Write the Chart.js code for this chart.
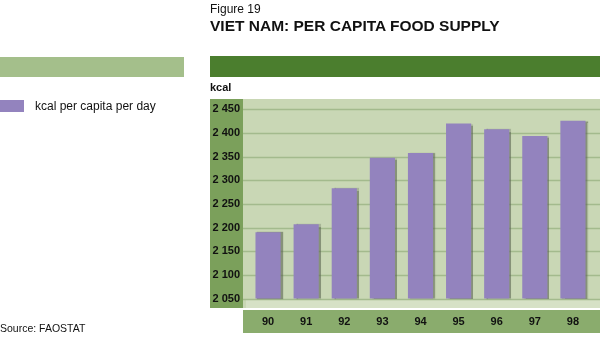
<!DOCTYPE html>
<html>
<head>
<meta charset="utf-8">
<script src="https://cdn.jsdelivr.net/npm/chart.js@4.4.1/dist/chart.umd.min.js"></script>
<style>
  html, body { margin: 0; padding: 0; background: #fff; }
  #wrap { position: relative; width: 600px; height: 338px; overflow: hidden; font-family: "Liberation Sans", Arial, sans-serif; }
  #c { position: absolute; left: 0; top: 0; }
  .t { position: absolute; white-space: nowrap; color: #111; }
  #fig { left: 210px; top: 2px; font-size: 12px; }
  #title { left: 210px; top: 17px; font-size: 15.5px; font-weight: bold; }
  #unit { left: 210px; top: 81px; font-size: 11px; font-weight: bold; }
  #sw { position: absolute; left: 0; top: 100px; width: 24px; height: 12px; background: #9383be; }
  #leg { left: 35px; top: 99px; font-size: 12px; }
  #src { left: 0; top: 322px; font-size: 10.5px; }
</style>
</head>
<body>
<div id="wrap">
  <canvas id="c" width="600" height="338"></canvas>
  <div class="t" id="fig">Figure 19</div>
  <div class="t" id="title">VIET NAM: PER CAPITA FOOD SUPPLY</div>
  <div class="t" id="unit">kcal</div>
  <div id="sw"></div>
  <div class="t" id="leg">kcal per capita per day</div>
  <div class="t" id="src">Source: FAOSTAT</div>
</div>
<script>
// Years (two-digit labels) and dietary energy supply, kcal per capita per day
const years = ['90', '91', '92', '93', '94', '95', '96', '97', '98'];
const kcalPerDay = [2190, 2207, 2283, 2348, 2358, 2420, 2408, 2394, 2426];
const yTicks = [2050, 2100, 2150, 2200, 2250, 2300, 2350, 2400, 2450];

const fmt = v => String(v).replace(/\B(?=(\d{3})+(?!\d))/g, ' ');

// Coloured panels, header bands and grid lines behind the bars
const panels = {
  id: 'panels',
  beforeDraw(chart) {
    const { ctx, chartArea: a, scales: { y } } = chart;
    ctx.save();
    // header bands
    ctx.fillStyle = '#4b7e2e';
    ctx.fillRect(210, 56, 390, 21);
    ctx.fillStyle = '#a4bf8b';
    ctx.fillRect(0, 57, 184, 20);
    // value axis band
    ctx.fillStyle = '#7ba05b';
    ctx.fillRect(210, a.top, 33, a.bottom - a.top);
    // plot background
    ctx.fillStyle = '#c9d7b5';
    ctx.fillRect(243, a.top, 600 - 243, a.bottom - a.top);
    // floor strip below the base line
    const base = y.getPixelForValue(2050);
    ctx.fillStyle = '#d6e1c6';
    ctx.fillRect(246, base + 1, 600 - 246, a.bottom - base - 1);
    // category axis band
    ctx.fillStyle = '#8aac6d';
    ctx.fillRect(243, a.bottom + 2, 600 - 243, 23);
    // grid lines
    ctx.strokeStyle = '#a3ba8d';
    ctx.lineWidth = 1.5;
    y.ticks.forEach(t => {
      const py = Math.round(y.getPixelForValue(t.value)) + 0.5;
      ctx.beginPath();
      ctx.moveTo(243, py);
      ctx.lineTo(600, py);
      ctx.stroke();
    });
    ctx.restore();
  },
  beforeDatasetsDraw(chart) {
    const ctx = chart.ctx;
    ctx.save();
    ctx.shadowColor = 'rgba(90, 100, 80, 0.6)';
    ctx.shadowOffsetX = 2;
    ctx.shadowOffsetY = 0;
    ctx.shadowBlur = 1;
  },
  afterDatasetsDraw(chart) {
    chart.ctx.restore();
  }
};

new Chart(document.getElementById('c'), {
  type: 'bar',
  data: {
    labels: years,
    datasets: [{
      label: 'kcal per capita per day',
      data: kcalPerDay,
      base: 2050,
      backgroundColor: '#9383be',
      borderWidth: 0,
      barPercentage: 0.66,
      categoryPercentage: 1
    }]
  },
  options: {
    responsive: false,
    animation: false,
    devicePixelRatio: 1,
    layout: { padding: { left: 210, right: 8, top: 99, bottom: 0 } },
    plugins: { legend: { display: false }, tooltip: { enabled: false } },
    scales: {
      x: {
        grid: { display: false, drawTicks: false },
        border: { display: false },
        afterFit(s) { s.height = 30; },
        ticks: {
          padding: 7,
          color: '#111',
          font: { family: '"Liberation Sans", Arial, sans-serif', size: 11, weight: 'bold' }
        }
      },
      y: {
        min: 2030,
        max: 2472,
        afterBuildTicks(s) { s.ticks = yTicks.map(v => ({ value: v })); },
        afterFit(s) { s.width = 39; },
        grid: { display: false, drawTicks: false },
        border: { display: false },
        ticks: {
          padding: 9,
          color: '#111',
          callback: v => fmt(v),
          font: { family: '"Liberation Sans", Arial, sans-serif', size: 11, weight: 'bold' }
        }
      }
    }
  },
  plugins: [panels]
});
</script>
</body>
</html>
